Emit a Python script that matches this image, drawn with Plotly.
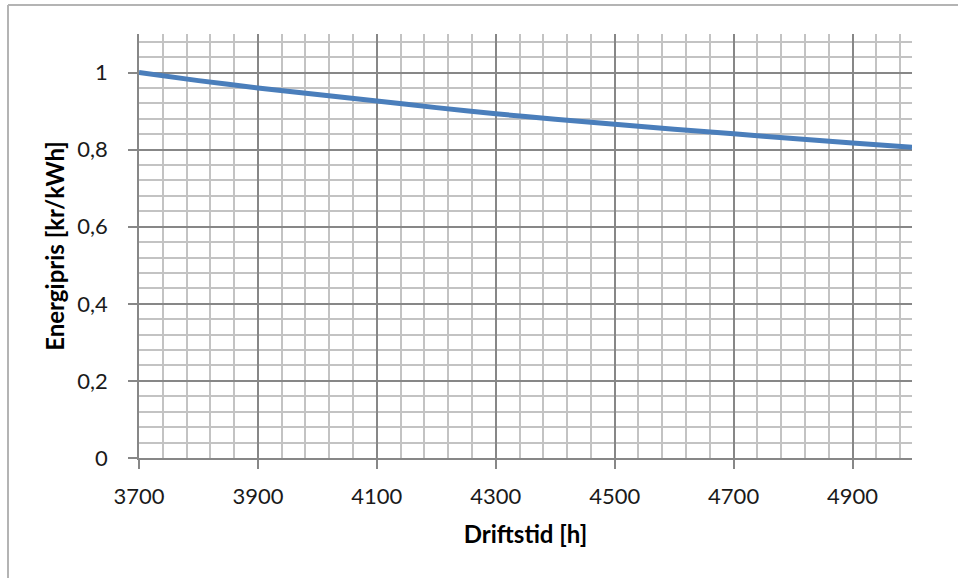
import plotly.graph_objects as go

# Operating hours [h] and the corresponding energy price [kr/kWh]
driftstid = [3700, 3800, 3900, 4000, 4100, 4200, 4300, 4400, 4500, 4600, 4700, 4800, 4900, 5000]
energipris = [1.000, 0.979, 0.960, 0.943, 0.926, 0.909, 0.893, 0.879, 0.866, 0.853, 0.841, 0.829, 0.817, 0.806]

x_ticks = [3700, 3900, 4100, 4300, 4500, 4700, 4900]
x_labels = ["3700", "3900", "4100", "4300", "4500", "4700", "4900"]
y_ticks = [0, 0.2, 0.4, 0.6, 0.8, 1.0]
y_labels = ["0", "0,2", "0,4", "0,6", "0,8", "1"]

MAJOR = "#878787"
MINOR = "#c3c3c3"
FONT = "Lato, 'Open Sans', sans-serif"

fig = go.Figure()
fig.add_trace(go.Scatter(
    x=driftstid, y=energipris, mode="lines",
    line=dict(color="#4a7ebb", width=5, shape="spline", smoothing=0.6),
    hoverinfo="skip", showlegend=False,
))

axis_common = dict(
    showline=True, linecolor=MAJOR, linewidth=1.5,
    ticks="outside", ticklen=9, tickwidth=1.5, tickcolor=MAJOR,
    showgrid=True, gridcolor=MAJOR, gridwidth=1.5,
    zeroline=False,
    tickfont=dict(family=FONT, size=22, color="#1a1a1a"),
)

fig.update_xaxes(
    range=[3700, 5000], tickmode="array", tickvals=x_ticks, ticktext=x_labels,
    minor=dict(tickmode="linear", tick0=3700, dtick=40, showgrid=True,
               gridcolor=MINOR, gridwidth=1.5, ticks=""),
    title=dict(text="<b>Driftstid [h]</b>", font=dict(family=FONT, size=24, color="#000"), standoff=18),
    ticklabelstandoff=9,
    **axis_common,
)
fig.update_yaxes(
    range=[0, 1.1], tickmode="array", tickvals=y_ticks, ticktext=y_labels,
    minor=dict(tickmode="linear", tick0=0, dtick=0.04, showgrid=True,
               gridcolor=MINOR, gridwidth=1.5, ticks=""),
    title=dict(text="<b>Energipris [kr/kWh]</b>", font=dict(family=FONT, size=24, color="#000"), standoff=6),
    ticklabelstandoff=16,
    **axis_common,
)

# Chart frame: left and top edges of the outer border
L, R, T, B = 139, 46, 34, 120
W, H = 958, 578
pw, ph = W - L - R, H - T - B
bx = (8 - L) / pw
by = (H - B - 5) / ph
fig.add_shape(type="line", xref="paper", yref="paper", x0=bx, x1=bx, y0=by, y1=-0.5,
              line=dict(color="#b4b4b4", width=2))
fig.add_shape(type="line", xref="paper", yref="paper", x0=bx, x1=1.2, y0=by, y1=by,
              line=dict(color="#b4b4b4", width=2))

fig.update_layout(
    width=W, height=H,
    margin=dict(l=L, r=R, t=T, b=B),
    paper_bgcolor="white", plot_bgcolor="white",
    separators=",.",
)

fig.write_html("out.html")
